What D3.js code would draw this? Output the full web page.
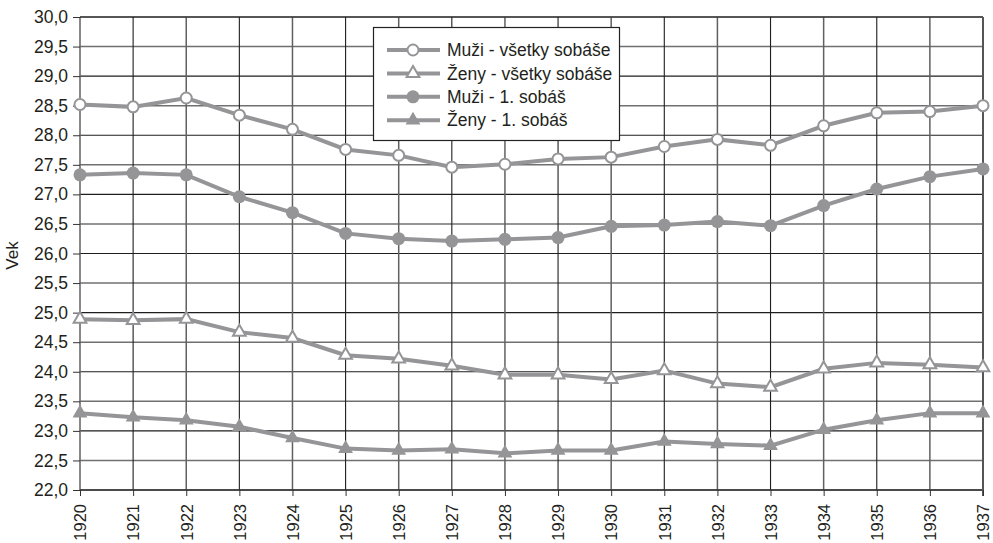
<!DOCTYPE html>
<html>
<head>
<meta charset="utf-8">
<title>Vek pri sobáši</title>
<script src="https://cdn.jsdelivr.net/npm/d3@7"></script>
<style>
  body { margin: 0; background: #fff; }
  svg text { font-family: "Liberation Sans", Arial, sans-serif; fill: #231f20; }
</style>
</head>
<body>
<svg id="chart"></svg>
<script>
// data
var years = [1920, 1921, 1922, 1923, 1924, 1925, 1926, 1927, 1928, 1929, 1930, 1931, 1932, 1933, 1934, 1935, 1936, 1937];
var muziVsetky = [28.52, 28.48, 28.63, 28.34, 28.10, 27.76, 27.66, 27.46, 27.51, 27.60, 27.63, 27.81, 27.93, 27.83, 28.16, 28.38, 28.40, 28.50];
var zenyVsetky = [24.89, 24.87, 24.89, 24.67, 24.57, 24.28, 24.22, 24.10, 23.95, 23.95, 23.87, 24.02, 23.80, 23.74, 24.05, 24.15, 24.12, 24.07];
var muziPrvy = [27.33, 27.36, 27.33, 26.96, 26.69, 26.34, 26.25, 26.21, 26.24, 26.27, 26.46, 26.48, 26.54, 26.47, 26.81, 27.09, 27.30, 27.43];
var zenyPrvy = [23.30, 23.23, 23.18, 23.07, 22.88, 22.70, 22.67, 22.69, 22.62, 22.67, 22.67, 22.82, 22.78, 22.75, 23.02, 23.18, 23.30, 23.30];
var yTicks = [22.0, 22.5, 23.0, 23.5, 24.0, 24.5, 25.0, 25.5, 26.0, 26.5, 27.0, 27.5, 28.0, 28.5, 29.0, 29.5, 30.0];
var seriesNames = ["Muži - všetky sobáše", "Ženy - všetky sobáše", "Muži - 1. sobáš", "Ženy - 1. sobáš"];

var width = 993, height = 543;
var plotLeft = 80, plotRight = 983, plotTop = 17, plotBottom = 490;
var grey = "#959598";

var svg = d3.select("#chart").attr("width", width).attr("height", height);

var x = d3.scalePoint().domain(years).range([plotLeft, plotRight]);
var y = d3.scaleLinear().domain([22, 30]).range([plotBottom, plotTop]);
var fmt = function(d) { return d3.format(".1f")(d).replace(".", ","); };

// grid
svg.append("g").selectAll("line")
  .data(yTicks)
  .enter().append("line")
  .attr("x1", plotLeft).attr("x2", plotRight)
  .attr("y1", function(d) { return y(d); }).attr("y2", function(d) { return y(d); })
  .attr("stroke", function(d, i) { return i % 2 == 1 ? "#707070" : "#1e1e1e"; })
  .attr("stroke-width", function(d, i) { return i % 2 == 1 ? 1.6 : 1.1; });

svg.append("g").selectAll("line")
  .data(years)
  .enter().append("line")
  .attr("y1", plotTop).attr("y2", plotBottom)
  .attr("x1", function(d) { return x(d); }).attr("x2", function(d) { return x(d); })
  .attr("stroke", function(d, i) { return i % 2 == 1 ? "#1e1e1e" : "#606060"; })
  .attr("stroke-width", function(d, i) { return i % 2 == 1 ? 1.1 : 1.5; });

// frame
svg.append("line").attr("x1", plotLeft).attr("x2", plotRight).attr("y1", plotTop).attr("y2", plotTop).attr("stroke", "#1e1e1e");
svg.append("line").attr("x1", plotLeft).attr("x2", plotRight).attr("y1", plotBottom).attr("y2", plotBottom).attr("stroke", "#333").attr("stroke-width", 1.5);
svg.append("line").attr("x1", plotRight).attr("x2", plotRight).attr("y1", plotTop).attr("y2", plotBottom + 6).attr("stroke", "#555").attr("stroke-width", 2);

// axes
var yAxis = svg.append("g")
  .attr("transform", "translate(" + plotLeft + ",0)")
  .call(d3.axisLeft(y).tickValues(yTicks).tickFormat(fmt).tickSize(7).tickPadding(5));
yAxis.select(".domain").remove();
yAxis.selectAll("line").attr("stroke", "#333");
yAxis.selectAll("text").style("font-size", "17.5px").attr("fill", "#231f20");

var xAxis = svg.append("g")
  .attr("transform", "translate(0," + plotBottom + ")")
  .call(d3.axisBottom(x).tickSize(6).tickFormat(d3.format("d")));
xAxis.select(".domain").remove();
xAxis.selectAll("line").attr("stroke", "#333");
xAxis.selectAll("text")
  .style("font-size", "16.5px")
  .attr("fill", "#231f20")
  .attr("text-anchor", "end")
  .attr("dy", "0.35em")
  .attr("transform", "translate(0,10) rotate(-90)")
  .attr("x", -4).attr("y", 0);

svg.append("text")
  .attr("transform", "translate(18," + ((plotTop + plotBottom) / 2 + 2) + ") rotate(-90)")
  .attr("text-anchor", "middle")
  .style("font-size", "17px")
  .text("Vek");

// series
var series = [
  { name: seriesNames[0], values: muziVsetky, shape: "circle", fill: "#fff" },
  { name: seriesNames[1], values: zenyVsetky, shape: "triangle", fill: "#fff" },
  { name: seriesNames[2], values: muziPrvy, shape: "circle", fill: grey },
  { name: seriesNames[3], values: zenyPrvy, shape: "triangle", fill: grey }
];

var line = d3.line()
  .x(function(d, i) { return x(years[i]); })
  .y(function(d) { return y(d); });

function marker(g, s) {
  if (s.shape == "circle") {
    g.append("circle").attr("r", s.fill == "#fff" ? 5.5 : 6.5)
      .attr("fill", s.fill).attr("stroke", grey).attr("stroke-width", s.fill == "#fff" ? 2 : 0);
  } else {
    g.append("path")
      .attr("d", d3.symbol().type(d3.symbolTriangle).size(s.fill == "#fff" ? 70 : 95)())
      .attr("fill", s.fill).attr("stroke", grey).attr("stroke-width", s.fill == "#fff" ? 2 : 0);
  }
}

series.forEach(function(s) {
  svg.append("path")
    .attr("d", line(s.values))
    .attr("fill", "none")
    .attr("stroke", grey)
    .attr("stroke-width", 4);
  s.values.forEach(function(v, i) {
    var g = svg.append("g").attr("transform", "translate(" + x(years[i]) + "," + y(v) + ")");
    marker(g, s);
  });
});

// legend
var lg = svg.append("g");
lg.append("rect")
  .attr("x", 373.5).attr("y", 27.5).attr("width", 246).attr("height", 113)
  .attr("fill", "#fff").attr("stroke", "#222").attr("stroke-width", 1.2);

series.forEach(function(s, i) {
  var cy = 50 + i * 23.4;
  lg.append("line").attr("x1", 387).attr("x2", 440).attr("y1", cy).attr("y2", cy)
    .attr("stroke", grey).attr("stroke-width", 4);
  var g = lg.append("g").attr("transform", "translate(413," + cy + ")");
  marker(g, s);
  lg.append("text").attr("x", 447).attr("y", cy).attr("dy", "0.35em")
    .style("font-size", "17.5px")
    .text(s.name);
});
</script>
</body>
</html>
